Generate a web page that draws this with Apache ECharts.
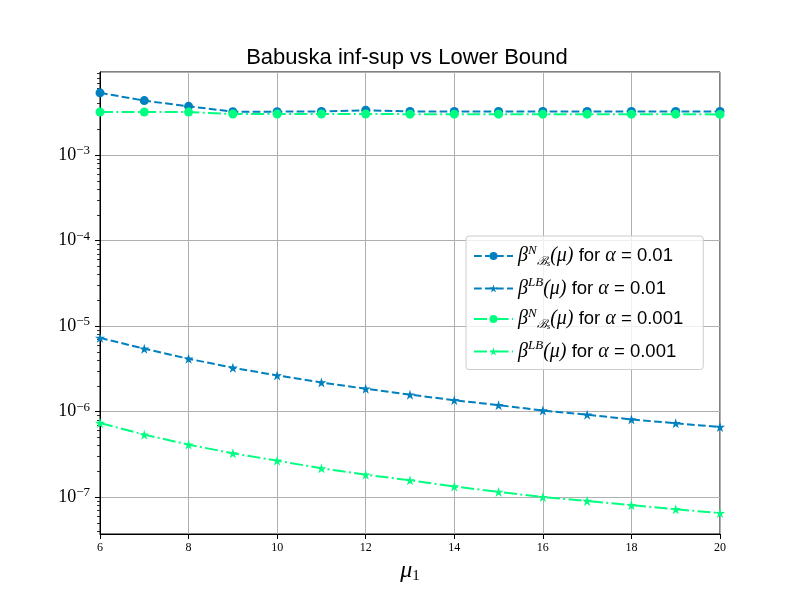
<!DOCTYPE html>
<html>
<head>
<meta charset="utf-8">
<script src="https://cdn.jsdelivr.net/npm/echarts@6/dist/echarts.min.js"></script>
<style>html,body{margin:0;padding:0;background:#fff;}#c{width:800px;height:600px;}</style>
</head>
<body>
<div id="c"></div>
<script>
const mu = [6, 7, 8, 9, 10, 11, 12, 13, 14, 15, 16, 17, 18, 19, 20];
const betaN_001 = [5.36e-3, 4.35e-3, 3.73e-3, 3.23e-3, 3.23e-3, 3.25e-3, 3.35e-3, 3.25e-3, 3.25e-3, 3.25e-3, 3.25e-3, 3.25e-3, 3.25e-3, 3.25e-3, 3.25e-3];
const betaLB_001 = [7.3e-6, 5.44e-6, 4.15e-6, 3.26e-6, 2.65e-6, 2.19e-6, 1.85e-6, 1.58e-6, 1.36e-6, 1.19e-6, 1.03e-6, 0.92e-6, 0.81e-6, 0.73e-6, 0.66e-6];
const betaN_0001 = [3.2e-3, 3.2e-3, 3.19e-3, 3.03e-3, 3.03e-3, 3.03e-3, 3.03e-3, 3.02e-3, 3.02e-3, 3.02e-3, 3.02e-3, 3.02e-3, 3.02e-3, 3.02e-3, 3.0e-3];
const betaLB_0001 = [7.36e-7, 5.38e-7, 4.11e-7, 3.25e-7, 2.67e-7, 2.17e-7, 1.83e-7, 1.57e-7, 1.33e-7, 1.15e-7, 1.0e-7, 0.90e-7, 0.805e-7, 0.72e-7, 0.65e-7];
const seriesNames = ['bN_0.01', 'bLB_0.01', 'bN_0.001', 'bLB_0.001'];
const xTicks = [6, 8, 10, 12, 14, 16, 18, 20];
const yMajorExp = [-8, -7, -6, -5, -4, -3, -2];

const BLUE = '#0080bf';
const GREEN = '#00ff80';
const STAR = 'path://M0,-1 L0.2245,-0.309 L0.951,-0.309 L0.363,0.118 L0.588,0.809 L0,0.382 L-0.588,0.809 L-0.363,0.118 L-0.951,-0.309 L-0.2245,-0.309 Z';
const yMin = 3.7e-8, yMax = 9.4e-3;

const minorVals = [];
yMajorExp.forEach(function (e) {
  for (let k = 2; k <= 9; k++) {
    const v = k * Math.pow(10, e);
    if (v > yMin && v < yMax) minorVals.push(v);
  }
});

function pairs(ys) { return mu.map(function (x, i) { return [x, ys[i]]; }); }

const legendText = {
  'bN_0.01': '{g|β}{sup|N}{sub|ℬ}{ss|s}{m|(μ)}{t| for }{g|α}{t| = 0.01}',
  'bLB_0.01': '{g|β}{sup|LB}{m|(μ)}{t| for }{g|α}{t| = 0.01}',
  'bN_0.001': '{g|β}{sup|N}{sub|ℬ}{ss|s}{m|(μ)}{t| for }{g|α}{t| = 0.001}',
  'bLB_0.001': '{g|β}{sup|LB}{m|(μ)}{t| for }{g|α}{t| = 0.001}'
};

const SERIF = 'Liberation Serif';
const SANS = 'Liberation Sans';

const chart = echarts.init(document.getElementById('c'), null, { renderer: 'canvas' });
chart.setOption({
  animation: false,
  backgroundColor: '#fff',
  title: {
    text: 'Babuska inf-sup vs Lower Bound',
    left: 402, top: 42, textAlign: 'center',
    textStyle: { fontFamily: SANS, fontSize: 22, fontWeight: 'normal', color: '#000' }
  },
  grid: { left: 100, right: 80, top: 72, bottom: 66, show: true, borderColor: '#000', borderWidth: 1, backgroundColor: 'transparent' },
  legend: {
    left: 466, top: 236, orient: 'vertical',
    data: seriesNames,
    itemWidth: 39, itemHeight: 10, itemGap: 8.5, itemTextGap: 20,
    padding: [8, 20, 8, 7],
    backgroundColor: 'rgba(255,255,255,0.8)',
    borderColor: '#cccccc', borderWidth: 1, borderRadius: 3,
    selectedMode: false,
    formatter: function (n) { return legendText[n]; },
    textStyle: {
      color: '#000',
      rich: {
        g: { fontFamily: SERIF, fontStyle: 'italic', fontSize: 20, lineHeight: 24, color: '#000' },
        m: { fontFamily: SERIF, fontStyle: 'italic', fontSize: 20, lineHeight: 24, color: '#000' },
        sup: { fontFamily: SERIF, fontStyle: 'italic', fontSize: 13, verticalAlign: 'top', lineHeight: 24, color: '#000' },
        sub: { fontFamily: 'DejaVu Serif', fontStyle: 'italic', fontSize: 12, verticalAlign: 'bottom', lineHeight: 24, color: '#000' },
        ss: { fontFamily: SERIF, fontStyle: 'italic', fontSize: 9, verticalAlign: 'bottom', lineHeight: 22, color: '#000' },
        t: { fontFamily: SANS, fontSize: 18.5, lineHeight: 24, color: '#000' }
      }
    }
  },
  xAxis: {
    type: 'value', min: 6, max: 20, interval: 2,
    name: '{m|μ}{s|1}', nameLocation: 'middle', nameGap: 22,
    nameTextStyle: {
      rich: {
        m: { fontFamily: SERIF, fontStyle: 'italic', fontSize: 24, color: '#000', lineHeight: 26 },
        s: { fontFamily: SERIF, fontSize: 15, color: '#000', verticalAlign: 'bottom', lineHeight: 26 }
      }
    },
    axisLine: { show: true, lineStyle: { color: '#000', width: 1 } },
    axisTick: { show: true, length: 5, lineStyle: { color: '#000', width: 1 } },
    axisLabel: { fontFamily: SERIF, fontSize: 12, color: '#000', margin: 8,
      customValues: xTicks },
    splitLine: { show: true, lineStyle: { color: '#b0b0b0', width: 1 } }
  },
  yAxis: [{
    type: 'log', logBase: 10, min: yMin, max: yMax,
    axisLine: { show: true, lineStyle: { color: '#000', width: 1 } },
    axisTick: { show: true, length: 5, lineStyle: { color: '#000', width: 1 } },
    axisLabel: {
      showMinLabel: false, showMaxLabel: false, margin: 10,
      formatter: function (v) {
        const e = Math.round(Math.log10(v));
        return '{b|10}{s|−' + Math.abs(e) + '}';
      },
      rich: {
        b: { fontFamily: SERIF, fontSize: 18, color: '#000', lineHeight: 22 },
        s: { fontFamily: SERIF, fontSize: 13, color: '#000', verticalAlign: 'top', lineHeight: 22 }
      }
    },
    splitLine: { show: true, lineStyle: { color: '#b0b0b0', width: 1 } }
  }, {
    type: 'log', logBase: 10, min: yMin, max: yMax, position: 'left',
    axisLine: { show: false },
    axisTick: { show: true, length: 3, customValues: minorVals, lineStyle: { color: '#000', width: 0.8 } },
    axisLabel: { show: false },
    splitLine: { show: false }
  }],
  series: [
    { name: seriesNames[0], type: 'line', data: pairs(betaN_001), symbol: 'circle', symbolSize: 9,
      itemStyle: { color: BLUE }, lineStyle: { color: BLUE, width: 2, type: [7.7, 3.3] } },
    { name: seriesNames[1], type: 'line', data: pairs(betaLB_001), symbol: STAR, symbolSize: 10,
      itemStyle: { color: BLUE }, lineStyle: { color: BLUE, width: 2, type: [7.7, 3.3] } },
    { name: seriesNames[2], type: 'line', data: pairs(betaN_0001), symbol: 'circle', symbolSize: 9,
      itemStyle: { color: GREEN }, lineStyle: { color: GREEN, width: 2, type: [13, 3.3, 2, 3.3] } },
    { name: seriesNames[3], type: 'line', data: pairs(betaLB_0001), symbol: STAR, symbolSize: 10,
      itemStyle: { color: GREEN }, lineStyle: { color: GREEN, width: 2, type: [13, 3.3, 2, 3.3] } }
  ]
});
</script>
</body>
</html>
